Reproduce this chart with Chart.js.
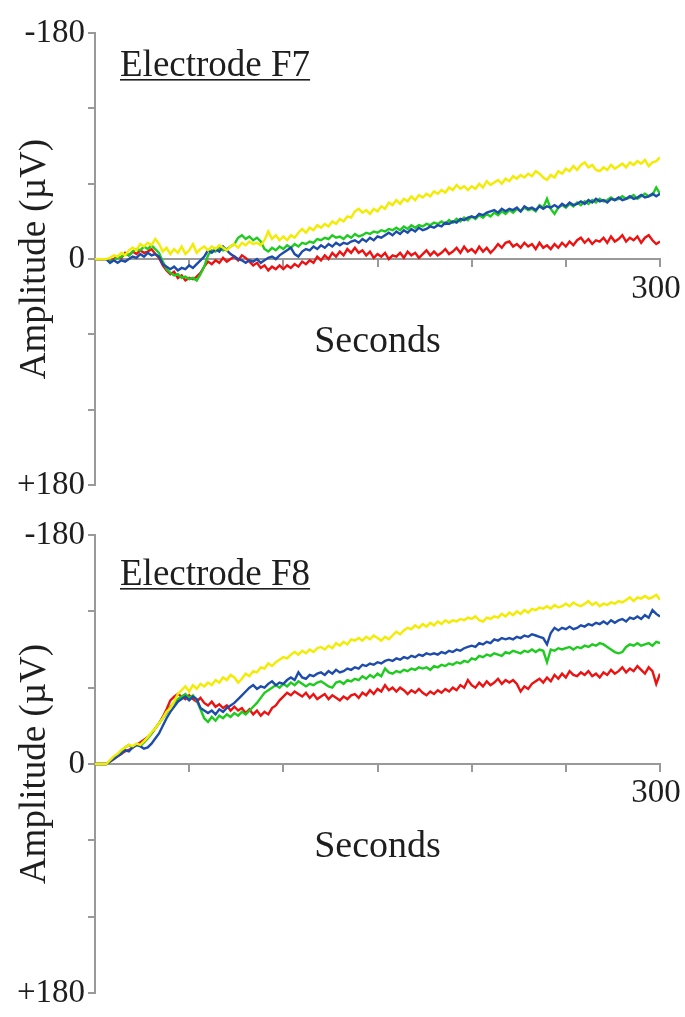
<!DOCTYPE html>
<html>
<head>
<meta charset="utf-8">
<script src="https://cdn.jsdelivr.net/npm/chart.js@4"></script>
<style>
  html, body { margin: 0; padding: 0; background: #fff; }
  canvas { display: block; }
</style>
</head>
<body>
<canvas id="f7" width="685" height="508"></canvas>
<canvas id="f8" width="685" height="509"></canvas>
<script>
// time in seconds, one reading every 2 s
const seconds = [
  0, 2, 4, 6, 8, 10, 12, 14, 16, 18,
  20, 22, 24, 26, 28, 30, 32, 34, 36, 38,
  40, 42, 44, 46, 48, 50, 52, 54, 56, 58,
  60, 62, 64, 66, 68, 70, 72, 74, 76, 78,
  80, 82, 84, 86, 88, 90, 92, 94, 96, 98,
  100, 102, 104, 106, 108, 110, 112, 114, 116, 118,
  120, 122, 124, 126, 128, 130, 132, 134, 136, 138,
  140, 142, 144, 146, 148, 150, 152, 154, 156, 158,
  160, 162, 164, 166, 168, 170, 172, 174, 176, 178,
  180, 182, 184, 186, 188, 190, 192, 194, 196, 198,
  200, 202, 204, 206, 208, 210, 212, 214, 216, 218,
  220, 222, 224, 226, 228, 230, 232, 234, 236, 238,
  240, 242, 244, 246, 248, 250, 252, 254, 256, 258,
  260, 262, 264, 266, 268, 270, 272, 274, 276, 278,
  280, 282, 284, 286, 288, 290, 292, 294, 296, 298,
  300
];

// Electrode F7 (µV, negative is up)
const f7Yellow = [
  0, 0, 0, 0, -1, -3, -2, -5, -3, -7,
  -9, -7, -12, -10, -13, -11, -16, -12, -6, -9,
  -4, -8, -5, -10, -4, -7, -12, -5, -8, -10,
  -7, -10, -8, -11, -9, -7, -10, -12, -9, -13,
  -11, -14, -12, -13, -11, -15, -22, -16, -19, -15,
  -18, -15, -19, -17, -21, -24, -21, -25, -23, -27,
  -25, -28, -26, -30, -28, -32, -30, -34, -33, -38,
  -40, -37, -39, -36, -40, -38, -42, -40, -45, -43,
  -47, -44, -48, -46, -50, -47, -51, -49, -52, -50,
  -54, -52, -55, -53, -57, -55, -59, -56, -58, -55,
  -58, -56, -60, -57, -62, -59, -61, -63, -60, -64,
  -62, -66, -64, -67, -65, -68, -66, -70, -68, -65,
  -63, -67, -65, -70, -68, -72, -70, -74, -71, -75,
  -77, -73, -75, -71, -70, -73, -71, -75, -72, -74,
  -76, -73, -77, -75, -78, -76, -79, -74, -77, -78,
  -81
];
const f7Blue = [
  0, 0, 0, 0, 3, 1, 3, 1, 2, 0,
  -2, -1, -4, -2, -5, -3, -4, -2, 4, 6,
  8, 6, 9, 7, 8, 5, 7, 4, 1, -2,
  -7, -5, -8, -6, -10, -7, -4, -2, 0, 1,
  3, 1, 2, 0, 3, 1, -1, -2, 0, -3,
  -5, -7, -9, -4, -2, -6, -8, -7, -10, -8,
  -11, -9, -12, -10, -13, -11, -13, -12, -14, -15,
  -13, -16, -14, -17, -15, -18, -17, -19, -21, -19,
  -22, -20, -23, -21, -24, -22, -25, -23, -24, -26,
  -25, -27, -26, -29, -28, -30, -29, -32, -31, -33,
  -34, -33, -36, -35, -37, -38, -39, -37, -40, -38,
  -40, -39, -41, -38, -42, -40, -41, -39, -42, -40,
  -42, -41, -43, -41, -44, -42, -45, -43, -44, -46,
  -44, -47, -45, -48, -46, -47, -45, -48, -47, -49,
  -47, -48, -50, -48, -49, -51, -49, -50, -52, -50,
  -52
];
const f7Green = [
  0, 0, 0, 0, 2, 1, -1, -2, -4, -3,
  -6, -8, -7, -10, -8, -11, -8, -5, 2, 8,
  11, 13, 12, 15, 14, 16, 15, 17, 12, 6,
  -3, -7, -6, -9, -7, -8, -10, -12, -17, -19,
  -16, -18, -15, -17, -14, -8, -6, -9, -7, -10,
  -8, -11, -9, -12, -10, -13, -12, -14, -13, -16,
  -15, -17, -16, -19, -17, -18, -16, -19, -17, -20,
  -18, -19, -21, -20, -22, -21, -23, -22, -24, -23,
  -25, -23, -26, -24, -27, -25, -27, -26, -28, -27,
  -29, -28, -30, -28, -31, -29, -32, -30, -33, -31,
  -34, -32, -35, -33, -36, -34, -37, -35, -38, -36,
  -39, -37, -40, -38, -41, -39, -40, -38, -43, -41,
  -48, -40, -36, -41, -43, -41, -44, -42, -45, -43,
  -46, -44, -47, -45, -48, -46, -47, -49, -47, -48,
  -50, -48, -49, -51, -48, -50, -52, -50, -51, -57,
  -52
];
const f7Red = [
  0, 0, 0, 0, 2, 0, -2, -1, -5, -3,
  -6, -4, -7, -5, -6, -8, -4, -1, 5, 9,
  12, 10, 15, 13, 17, 15, 16, 14, 11, 6,
  2, 4, 1, 3, -1, 2, 0, -2, 1, -3,
  -1, 2, 5, 3, 7, 5, 9, 6, 8, 5,
  8, 5, 7, 4, 6, 2, 4, 1, 3, -2,
  1, -3, 0, -5, -2, -6, -3, -8, -5, -9,
  -5, -7, -3, -6, -1, -4, -2, -5, 0, -3,
  -2, -5, -1, -6, -3, -5, -1, -4, -7, -3,
  -6, -3, -5, -8, -4, -6, -9, -5, -10, -6,
  -8, -5, -10, -6, -9, -5, -8, -12, -9, -13,
  -14, -10, -12, -9, -13, -10, -12, -8, -13, -9,
  -11, -8, -12, -9, -13, -10, -14, -11, -15, -17,
  -13, -16, -12, -15, -14, -17, -13, -18, -14, -16,
  -19, -14, -17, -15, -18, -13, -17, -19, -15, -12,
  -14
];

// Electrode F8
const f8Yellow = [
  0, 0, 0, 0, -3, -6, -8, -11, -13, -15,
  -14, -16, -15, -18, -21, -25, -28, -32, -36, -41,
  -44, -49, -55, -58, -61, -57, -62, -59, -63, -61,
  -64, -62, -66, -64, -68, -66, -70, -68, -64, -67,
  -71, -69, -73, -72, -76, -75, -79, -77, -80, -82,
  -84, -83, -86, -88, -86, -89, -87, -90, -88, -91,
  -92, -90, -93, -91, -95, -93, -96, -94, -98, -97,
  -99, -97, -100, -98, -101, -99, -97, -100, -98, -101,
  -104, -102, -105, -107, -106, -109, -107, -110, -108, -111,
  -109, -112, -110, -113, -111, -113, -112, -114, -113, -115,
  -114, -116, -113, -112, -115, -114, -116, -115, -118, -116,
  -119, -117, -120, -118, -121, -119, -122, -121, -123, -122,
  -124, -122, -125, -123, -124, -126, -124, -127, -125, -124,
  -126, -128, -125, -127, -124, -126, -125, -127, -126, -128,
  -127, -129, -131, -128, -131, -130, -132, -130, -131, -133,
  -129
];
const f8Blue = [
  0, 0, 0, 0, -2, -4, -6, -8, -11, -10,
  -13, -15, -14, -12, -13, -16, -20, -24, -30, -36,
  -41, -45, -49, -51, -53, -50, -53, -51, -44, -42,
  -40, -42, -39, -43, -41, -44, -46, -48, -51, -54,
  -57, -60, -62, -59, -61, -60, -63, -65, -62, -64,
  -63, -66, -68, -66, -72, -68, -67, -70, -69, -71,
  -72, -70, -73, -71, -74, -72, -73, -75, -74, -76,
  -75, -78, -77, -79, -78, -80, -79, -81, -82, -81,
  -83, -82, -84, -83, -85, -84, -86, -85, -87, -86,
  -87, -86, -88, -87, -89, -88, -90, -89, -91, -92,
  -93, -92, -95, -94, -96, -95, -98, -97, -99, -98,
  -99, -98, -100, -99, -101, -100, -102, -101, -100, -99,
  -94, -103, -107, -105, -107, -106, -108, -106, -107, -109,
  -108, -110, -109, -111, -110, -112, -110, -113, -111, -113,
  -114, -112, -115, -114, -116, -114, -117, -115, -121, -118,
  -116
];
const f8Green = [
  0, 0, 0, 0, -2, -5, -7, -10, -13, -15,
  -13, -15, -14, -17, -20, -24, -28, -32, -36, -40,
  -45, -48, -51, -53, -55, -52, -54, -50, -43, -36,
  -33, -37, -34, -38, -36, -39, -37, -40, -38, -41,
  -39, -42, -45, -48, -52, -56, -58, -60, -62, -60,
  -63, -61, -64, -62, -65, -63, -61, -63, -62, -64,
  -65, -63, -61, -60, -64, -65, -63, -66, -65, -67,
  -66, -69, -67, -70, -68, -71, -69, -75, -72, -71,
  -73, -72, -74, -73, -75, -74, -76, -75, -76, -74,
  -77, -76, -78, -77, -79, -78, -80, -79, -81, -80,
  -83, -82, -85, -84, -86, -85, -87, -86, -85, -88,
  -87, -89, -88, -87, -89, -88, -90, -88, -90, -89,
  -80, -90, -89, -91, -90, -91, -92, -90, -92, -91,
  -93, -92, -94, -93, -95, -94, -92, -90, -88, -87,
  -88, -92, -94, -93, -95, -93, -94, -95, -93, -96,
  -95
];
const f8Red = [
  0, 0, 0, 0, -2, -4, -6, -8, -10, -11,
  -13, -15, -17, -19, -21, -24, -28, -32, -37, -43,
  -50, -53, -55, -53, -51, -54, -51, -49, -52, -48,
  -46, -49, -45, -47, -44, -46, -42, -45, -42, -44,
  -40, -43, -39, -42, -38, -41, -39, -44, -46, -50,
  -53, -56, -54, -57, -55, -53, -56, -52, -55, -51,
  -53, -55, -51, -54, -52, -50, -53, -51, -54, -55,
  -52, -56, -54, -58, -55, -59, -57, -62, -58, -60,
  -57, -60, -58, -55, -58, -56, -59, -56, -54, -57,
  -55, -58, -56, -59, -57, -60, -58, -62, -60, -66,
  -62, -60, -64, -61, -65, -62, -64, -67, -63, -66,
  -64, -66, -63, -57, -61, -59, -63, -65, -67, -64,
  -68, -65, -70, -67, -71, -68, -73, -70, -69, -72,
  -70, -73, -69, -71, -68, -72, -70, -74, -71, -73,
  -76, -72, -75, -73, -77, -74, -71, -76, -73, -63,
  -71
];

const yTickLabels = { '-180': '-180', '0': '0', '180': '+180' };
const xTickLabels = { '300': '300' };

const FONT = "'Liberation Serif', 'Times New Roman', serif";
const INK = '#1e1e1e';
const AXIS = '#999999';

const colors = {
  yellow: '#f4ec00',
  blue: '#1d4cab',
  green: '#1ecb1e',
  red: '#ec1212'
};

function series(vals, color) {
  return {
    data: seconds.map((t, i) => ({ x: t, y: vals[i] })),
    borderColor: color,
    borderWidth: 2.4,
    pointRadius: 0,
    tension: 0,
    fill: false
  };
}

const panelTitle = {
  id: 'panelTitle',
  afterDraw(chart, args, opts) {
    const c = chart.ctx;
    c.save();
    c.font = '37px ' + FONT;
    c.fillStyle = INK;
    c.textBaseline = 'alphabetic';
    c.fillText(opts.text, opts.x, opts.y);
    const w = c.measureText(opts.text).width;
    c.fillRect(opts.x, opts.y + 3, w, 1.6);
    c.restore();
  }
};

function makeChart(id, data, title, pad) {
  return new Chart(document.getElementById(id), {
    type: 'line',
    data: {
      datasets: [
        series(data[0], colors.yellow),
        series(data[1], colors.blue),
        series(data[2], colors.green),
        series(data[3], colors.red)
      ]
    },
    options: {
      responsive: false,
      animation: false,
      layout: { padding: pad },
      plugins: {
        legend: { display: false },
        tooltip: { enabled: false },
        panelTitle: title
      },
      scales: {
        x: {
          type: 'linear',
          min: 0,
          max: 300,
          position: { y: 0 },
          afterFit: s => { s.paddingLeft = 0; s.paddingRight = 0; },
          ticks: {
            stepSize: 50,
            autoSkip: false,
            maxRotation: 0,
            padding: 3,
            labelOffset: -4,
            color: INK,
            font: { family: FONT, size: 33 },
            callback: v => xTickLabels[v] || ''
          },
          grid: { drawOnChartArea: false, tickLength: 7, color: AXIS, lineWidth: 2 },
          border: { color: AXIS, width: 2 },
          title: {
            display: true,
            text: 'Seconds',
            color: INK,
            font: { family: FONT, size: 38 },
            padding: { top: 8, bottom: 0 }
          }
        },
        y: {
          type: 'linear',
          min: -180,
          max: 180,
          reverse: true,
          afterFit: s => { s.width = 95; },
          ticks: {
            stepSize: 60,
            autoSkip: false,
            padding: 3,
            color: INK,
            font: { family: FONT, size: 33 },
            callback: v => yTickLabels[v] || ''
          },
          grid: { drawOnChartArea: false, tickLength: 7, color: AXIS, lineWidth: 2 },
          border: { color: AXIS, width: 2 },
          title: {
            display: true,
            text: 'Amplitude (µV)',
            color: INK,
            font: { family: FONT, size: 37 },
            padding: { top: 13, bottom: 0 }
          }
        }
      }
    },
    plugins: [panelTitle]
  });
}

makeChart('f7', [f7Yellow, f7Blue, f7Green, f7Red],
  { text: 'Electrode F7', x: 120, y: 76 },
  { left: 0, right: 25, top: 33, bottom: 20 });

makeChart('f8', [f8Yellow, f8Blue, f8Green, f8Red],
  { text: 'Electrode F8', x: 120, y: 77 },
  { left: 0, right: 25, top: 27, bottom: 24 });
</script>
</body>
</html>
